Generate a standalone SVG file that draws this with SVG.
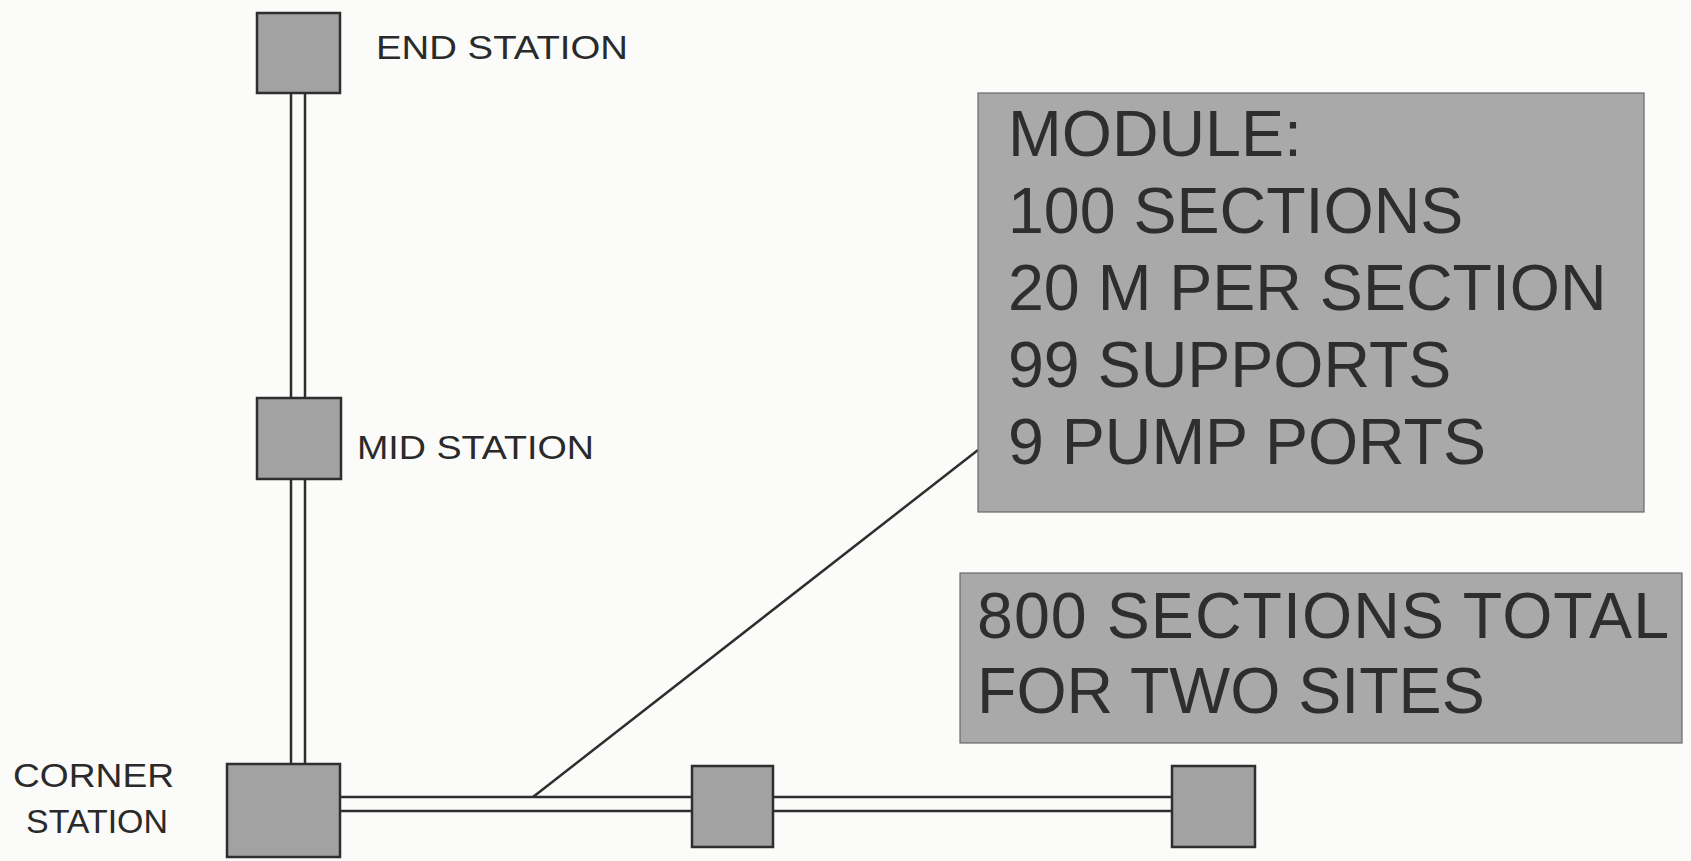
<svg xmlns="http://www.w3.org/2000/svg" width="1691" height="861" viewBox="0 0 1691 861">
<style>
.bg{fill:#fbfbfa}
.st{fill:#a2a2a2;stroke:#2e2e2e;stroke-width:2.5}
.info{fill:#a9a9a9;stroke:#6a6a6a;stroke-width:1.2}
.pipe{stroke:#2e2e2e;stroke-width:2.5;fill:none}
.lbl{font-family:"Liberation Sans",Arial,sans-serif;font-size:34px;fill:#2a2a2a}
.big{font-family:"Liberation Sans",Arial,sans-serif;font-size:64.5px;fill:#2e2e2e}
</style>
<rect class="bg" x="0" y="0" width="1691" height="861"/>
<g id="connectors">
<line class="pipe" x1="291" y1="93" x2="291" y2="398"/>
<line class="pipe" x1="305" y1="93" x2="305" y2="398"/>
<line class="pipe" x1="291" y1="479" x2="291" y2="764"/>
<line class="pipe" x1="305" y1="479" x2="305" y2="764"/>
<line class="pipe" x1="340" y1="797" x2="692" y2="797"/>
<line class="pipe" x1="340" y1="811" x2="692" y2="811"/>
<line class="pipe" x1="773" y1="797" x2="1172" y2="797"/>
<line class="pipe" x1="773" y1="811" x2="1172" y2="811"/>
<line class="pipe" x1="533" y1="797" x2="978" y2="450"/>
</g>
<g id="end-station">
<rect class="st" x="257" y="13" width="83" height="80"/>
<text class="lbl" x="376" y="59" textLength="252" lengthAdjust="spacingAndGlyphs">END STATION</text>
</g>
<g id="mid-station">
<rect class="st" x="257" y="398" width="84" height="81"/>
<text class="lbl" x="357" y="459" textLength="237" lengthAdjust="spacingAndGlyphs">MID STATION</text>
</g>
<g id="corner-station">
<rect class="st" x="227" y="764" width="113" height="93"/>
<text class="lbl" x="13" y="787" textLength="161" lengthAdjust="spacingAndGlyphs">CORNER</text>
<text class="lbl" x="26" y="833" textLength="142" lengthAdjust="spacingAndGlyphs">STATION</text>
</g>
<g id="station-mid-h">
<rect class="st" x="692" y="766" width="81" height="81"/>
</g>
<g id="station-right">
<rect class="st" x="1172" y="766" width="83" height="81"/>
</g>
<g id="module-box">
<rect class="info" x="978" y="93" width="666" height="419"/>
<text class="big" x="1008" y="156">MODULE:</text>
<text class="big" x="1008" y="233">100 SECTIONS</text>
<text class="big" x="1008" y="310">20 M PER SECTION</text>
<text class="big" x="1008" y="387">99 SUPPORTS</text>
<text class="big" x="1008" y="464">9 PUMP PORTS</text>
</g>
<g id="total-box">
<rect class="info" x="960" y="573" width="722" height="170"/>
<text class="big" x="977" y="638" textLength="692">800 SECTIONS TOTAL</text>
<text class="big" x="977" y="713">FOR TWO SITES</text>
</g>
</svg>
